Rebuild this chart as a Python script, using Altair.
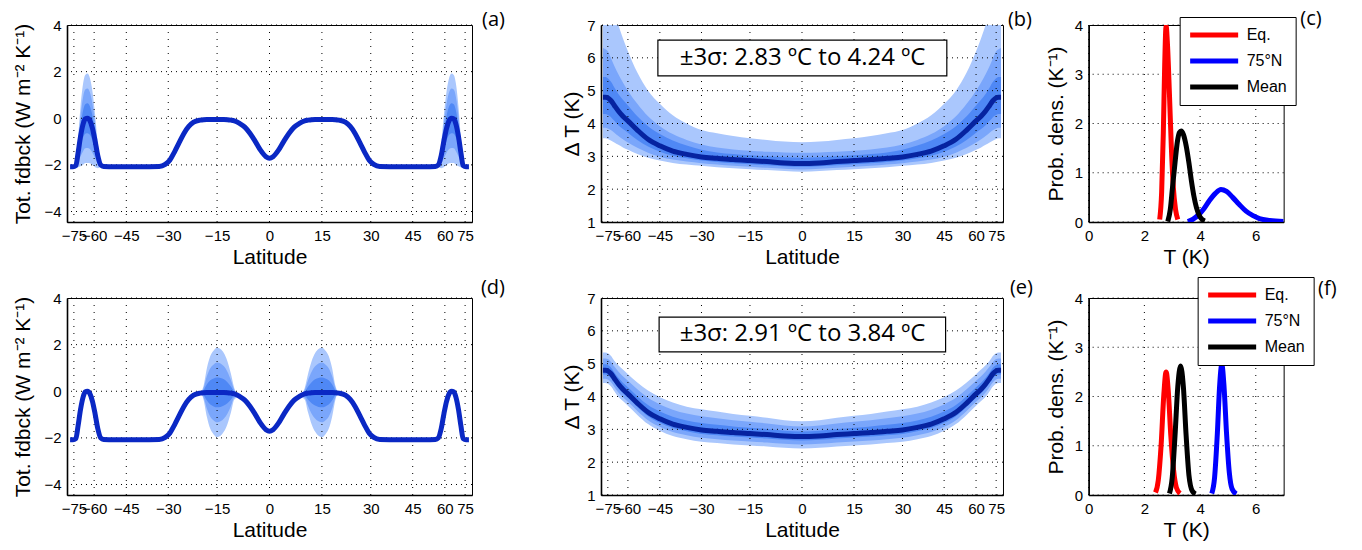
import altair as alt
import numpy as np
import pandas as pd

# ---------------- data ----------------
# (a)/(d) total feedback vs latitude: southern half incl. equator (figure is symmetric)
fb_lat_half = [-80, -76, -73, -71, -69, -67, -65.5, -64, -62.5, -61, -59.5, -58, -56.5, -55,
               -50, -40, -33, -31, -29.5, -28, -26.5, -25, -23.5, -22, -20, -19, -18, -17,
               -16, -15, -14, -13, -12, -11, -10, -8.5, -7, -5.5, -4, -2.5, -1, 0]
fb_val_half = [-2.08, -2.08, -2.03, -1.5, -0.8, -0.25, -0.03, 0.0, -0.1, -0.42, -0.95, -1.6, -2.0, -2.07,
               -2.08, -2.08, -2.07, -1.98, -1.8, -1.45, -1.05, -0.65, -0.35, -0.17, -0.08, -0.06, -0.05, -0.05,
               -0.05, -0.05, -0.05, -0.05, -0.06, -0.08, -0.11, -0.22, -0.38, -0.65, -1.0, -1.38, -1.65, -1.72]
# one-sigma spread of the feedback: (a) polar uncertainty, (d) subtropical uncertainty
fb_sd_a_half = [0, 0, 0.02, 0.2, 0.42, 0.58, 0.63, 0.64, 0.61, 0.53, 0.38, 0.18, 0.03, 0,
                0, 0, 0, 0, 0, 0, 0, 0, 0, 0, 0, 0, 0, 0,
                0, 0, 0, 0, 0, 0, 0, 0, 0, 0, 0, 0, 0, 0]
fb_sd_d_half = [0, 0, 0, 0, 0, 0, 0, 0, 0, 0, 0, 0, 0, 0,
                0, 0, 0, 0, 0, 0, 0, 0, 0, 0, 0, 0.1, 0.35, 0.52,
                0.6, 0.64, 0.62, 0.56, 0.45, 0.28, 0.08, 0, 0, 0, 0, 0, 0, 0]

# (b)/(e) warming vs latitude: southern half incl. equator
dt_lat_half = [-82, -78, -75, -72, -69, -66, -63, -60, -55, -50, -45, -40, -35, -30, -25, -20, -15, -10, -5, 0]
dt_mean_half = [4.80, 4.80, 4.78, 4.70, 4.55, 4.38, 4.22, 4.08, 3.80, 3.52, 3.32, 3.16, 3.06, 2.98, 2.94, 2.90, 2.87, 2.84, 2.80, 2.78]
# (b) band edges (1, 2, 3 sigma, skewed)
b_hi3_half = [8.6, 8.5, 8.3, 7.9, 7.45, 7.0, 6.6, 6.2, 5.55, 5.0, 4.6, 4.25, 4.0, 3.8, 3.7, 3.62, 3.55, 3.5, 3.45, 3.43]
b_hi2_half = [6.3, 6.26, 6.2, 6.0, 5.75, 5.5, 5.25, 5.0, 4.6, 4.22, 3.92, 3.68, 3.5, 3.36, 3.27, 3.21, 3.17, 3.14, 3.12, 3.11]
b_hi1_half = [5.42, 5.42, 5.38, 5.28, 5.1, 4.9, 4.72, 4.55, 4.22, 3.92, 3.68, 3.48, 3.33, 3.2, 3.12, 3.07, 3.03, 3.0, 2.97, 2.96]
b_lo1_half = [4.29, 4.29, 4.26, 4.2, 4.08, 3.95, 3.83, 3.72, 3.5, 3.3, 3.14, 3.02, 2.94, 2.87, 2.83, 2.79, 2.76, 2.73, 2.7, 2.68]
b_lo2_half = [3.87, 3.87, 3.85, 3.8, 3.72, 3.62, 3.52, 3.42, 3.26, 3.11, 2.99, 2.9, 2.84, 2.79, 2.75, 2.71, 2.68, 2.65, 2.62, 2.6]
b_lo3_half = [3.55, 3.55, 3.53, 3.48, 3.42, 3.35, 3.27, 3.2, 3.07, 2.96, 2.87, 2.8, 2.75, 2.71, 2.67, 2.64, 2.61, 2.58, 2.55, 2.53]
# (e) one-sigma spread above / below the mean
e_sd_hi_half = [0.18, 0.18, 0.18, 0.18, 0.18, 0.19, 0.2, 0.2, 0.21, 0.22, 0.22, 0.22, 0.21, 0.21, 0.2, 0.19, 0.18, 0.17, 0.16, 0.155]
e_sd_lo_half = [0.13, 0.13, 0.13, 0.13, 0.13, 0.13, 0.12, 0.12, 0.12, 0.12, 0.12, 0.12, 0.12, 0.12, 0.12, 0.12, 0.12, 0.12, 0.12, 0.12]

# (c) probability densities
c_eq_T = [2.55, 2.62, 2.68, 2.73, 2.78, 2.83, 2.90, 2.97, 3.04, 3.12, 3.20]
c_eq_p = [0.05, 0.6, 1.8, 3.2, 3.98, 3.6, 2.6, 1.5, 0.7, 0.25, 0.05]
c_n75_T = [3.56, 3.75, 3.97, 4.15, 4.33, 4.55, 4.75, 4.95, 5.17, 5.4, 5.65, 5.9, 6.13, 6.5, 7.0]
c_n75_p = [0.01, 0.06, 0.16, 0.28, 0.43, 0.58, 0.66, 0.62, 0.5, 0.36, 0.22, 0.13, 0.07, 0.03, 0.01]
c_mean_T = [2.84, 2.93, 3.01, 3.1, 3.19, 3.26, 3.32, 3.4, 3.5, 3.6, 3.69, 3.78, 3.87, 4.0, 4.17]
c_mean_p = [0.01, 0.25, 0.7, 1.2, 1.65, 1.82, 1.85, 1.78, 1.55, 1.2, 0.83, 0.52, 0.29, 0.1, 0.02]
# (f) probability densities
f_eq_T = [2.4, 2.5, 2.6, 2.7, 2.78, 2.86, 2.95, 3.05, 3.15, 3.28]
f_eq_p = [0.05, 0.3, 1.0, 2.05, 2.5, 2.1, 1.2, 0.5, 0.15, 0.03]
f_n75_T = [4.42, 4.52, 4.62, 4.7, 4.78, 4.86, 4.95, 5.05, 5.15, 5.3]
f_n75_p = [0.03, 0.35, 1.25, 2.2, 2.65, 2.2, 1.25, 0.45, 0.12, 0.02]
f_mean_T = [2.9, 3.0, 3.1, 3.2, 3.3, 3.4, 3.5, 3.6, 3.72, 3.84]
f_mean_p = [0.03, 0.35, 1.2, 2.2, 2.62, 2.2, 1.2, 0.4, 0.08, 0.02]

series_names = ["Eq.", "75°N", "Mean"]
series_colors = ["#ff0000", "#0000ff", "#000000"]

lat_ticks = [-75, -60, -45, -30, -15, 0, 15, 30, 45, 60, 75]
fb_ticks = [-4, -2, 0, 2, 4]
dt_ticks = [1, 2, 3, 4, 5, 6, 7]
pdf_x_ticks = [0, 2, 4, 6]
pdf_y_ticks = [0, 1, 2, 3, 4]

box_b = {"text": "±3σ: 2.83 ºC to 4.24 ºC", "lat0": -45.8, "lat1": 46.1, "y0": 5.45, "y1": 6.54, "ty": 6.0}
box_e = {"text": "±3σ: 2.91 ºC to 3.84 ºC", "lat0": -45.3, "lat1": 45.6, "y0": 5.36, "y1": 6.42, "ty": 5.89}

# ---------------- styling ----------------
LIGHT, MID, DARK = "#aac7fd", "#7aa6fb", "#4f88f5"
FB_LINE, DT_LINE = "#0a28c4", "#0623a0"
AXFONT = "Liberation Sans"
BOXFONT = "Open Sans"


def mirror_lat(half):
    return list(half) + [-v for v in reversed(half[:-1])]


def mirror_val(half):
    return list(half) + list(reversed(half[:-1]))


def sin_lat(lat):
    return np.sin(np.radians(np.asarray(lat, dtype=float)))


fbdf = pd.DataFrame({
    "lat": mirror_lat(fb_lat_half),
    "v": mirror_val(fb_val_half),
    "sda": mirror_val(fb_sd_a_half),
    "sdd": mirror_val(fb_sd_d_half),
})
fbdf["s"] = sin_lat(fbdf["lat"])
for k in (1, 2, 3):
    fbdf[f"a_lo{k}"] = fbdf["v"] - k * fbdf["sda"]
    fbdf[f"a_hi{k}"] = fbdf["v"] + k * fbdf["sda"]
    fbdf[f"d_lo{k}"] = fbdf["v"] - k * fbdf["sdd"]
    fbdf[f"d_hi{k}"] = fbdf["v"] + k * fbdf["sdd"]

bdf = pd.DataFrame({
    "lat": mirror_lat(dt_lat_half),
    "m": mirror_val(dt_mean_half),
    "hi3": mirror_val(b_hi3_half), "hi2": mirror_val(b_hi2_half), "hi1": mirror_val(b_hi1_half),
    "lo1": mirror_val(b_lo1_half), "lo2": mirror_val(b_lo2_half), "lo3": mirror_val(b_lo3_half),
})
bdf["s"] = sin_lat(bdf["lat"])

edf = pd.DataFrame({
    "lat": mirror_lat(dt_lat_half),
    "m": mirror_val(dt_mean_half),
    "sh": mirror_val(e_sd_hi_half),
    "sl": mirror_val(e_sd_lo_half),
})
edf["s"] = sin_lat(edf["lat"])
for k in (1, 2, 3):
    edf[f"hi{k}"] = edf["m"] + k * edf["sh"]
    edf[f"lo{k}"] = edf["m"] - k * edf["sl"]

gx_lat = pd.DataFrame({"s": sin_lat(lat_ticks)})

xs = alt.Scale(domain=[-1, 1], nice=False, zero=False)
xa = alt.Axis(title="Latitude", values=[float(v) for v in sin_lat(lat_ticks)],
              labelExpr="format(asin(datum.value)*180/PI, '.0f')",
              labelOverlap=False, labelFlush=False, titlePadding=3)
X_LAT = alt.X("s:Q", scale=xs, axis=xa)

W1, W2, W3, H = 405, 402, 195, 197


def grid_layers(xdf, xenc, ydf, yenc):
    v = alt.Chart(xdf).mark_rule(color="black", strokeWidth=1, strokeDash=[1, 6]).encode(x=xenc)
    h = alt.Chart(ydf).mark_rule(color="black", strokeWidth=1, strokeDash=[1, 4]).encode(y=yenc)
    return [v, h]


def panel_title(label, dx, dy):
    return alt.TitleParams(label, anchor="end", frame="group", dx=dx, dy=dy, fontSize=20,
                           font=BOXFONT, fontWeight="normal", color="black", baseline="alphabetic", offset=3)


def fb_panel(p, label, dx, dy):
    ys = alt.Scale(domain=[-4.45, 4], nice=False, zero=False)
    ya = alt.Axis(title="Tot. fdbck (W m⁻² K⁻¹)", values=fb_ticks, titlePadding=10)
    base = alt.Chart(fbdf)
    layers = []
    for k, col in ((3, LIGHT), (2, MID), (1, DARK)):
        layers.append(base.mark_area(color=col, interpolate="monotone", clip=True).encode(
            x=X_LAT, y=alt.Y(f"{p}_lo{k}:Q", scale=ys, axis=ya), y2=f"{p}_hi{k}:Q"))
    gy = pd.DataFrame({"v": fb_ticks})
    layers += grid_layers(gx_lat, X_LAT, gy, alt.Y("v:Q", scale=ys, axis=ya))
    layers.append(base.mark_line(color=FB_LINE, strokeWidth=5, interpolate="monotone", clip=True).encode(
        x=X_LAT, y=alt.Y("v:Q", scale=ys, axis=ya)))
    return alt.layer(*layers).properties(width=W1, height=H, title=panel_title(label, dx, dy))


def dt_panel(df, box, label, dx, dy):
    ys = alt.Scale(domain=[1, 7], nice=False, zero=False)
    ya = alt.Axis(title="Δ T (K)", values=dt_ticks, titlePadding=4)
    base = alt.Chart(df)
    layers = []
    for k, col in ((3, LIGHT), (2, MID), (1, DARK)):
        layers.append(base.mark_area(color=col, interpolate="monotone", clip=True).encode(
            x=X_LAT, y=alt.Y(f"lo{k}:Q", scale=ys, axis=ya), y2=f"hi{k}:Q"))
    gy = pd.DataFrame({"v": dt_ticks})
    layers += grid_layers(gx_lat, X_LAT, gy, alt.Y("v:Q", scale=ys, axis=ya))
    layers.append(base.mark_line(color=DT_LINE, strokeWidth=5, interpolate="monotone", clip=True).encode(
        x=X_LAT, y=alt.Y("m:Q", scale=ys, axis=ya)))
    bx = pd.DataFrame({"s0": sin_lat([box["lat0"]]), "s1": sin_lat([box["lat1"]]),
                       "y0": [box["y0"]], "y1": [box["y1"]], "ty": [box["ty"]],
                       "sc": sin_lat([(box["lat0"] + box["lat1"]) / 2]), "t": [box["text"]]})
    layers.append(alt.Chart(bx).mark_rect(fill="white", stroke="black", strokeWidth=1.2).encode(
        x=alt.X("s0:Q", scale=xs, axis=xa), x2="s1:Q", y=alt.Y("y0:Q", scale=ys, axis=ya), y2="y1:Q"))
    layers.append(alt.Chart(bx).mark_text(font=BOXFONT, fontSize=24, color="black", baseline="middle",
                                          align="center").encode(
        x=alt.X("sc:Q", scale=xs, axis=xa), y=alt.Y("ty:Q", scale=ys, axis=ya), text="t:N"))
    return alt.layer(*layers).properties(width=W2, height=H, title=panel_title(label, dx, dy))


def pdf_panel(Ts, Ps, label, dx, dy, lx, ly):
    rows = []
    for name, T, P in zip(series_names, Ts, Ps):
        for t, p in zip(T, P):
            rows.append({"T": t, "p": p, "series": name})
    df = pd.DataFrame(rows)
    xsc = alt.Scale(domain=[0, 7], nice=False, zero=False)
    ysc = alt.Scale(domain=[0, 4], nice=False, zero=False)
    xax = alt.Axis(title="T (K)", values=pdf_x_ticks, labelFlush=False, titlePadding=3)
    yax = alt.Axis(title="Prob. dens. (K⁻¹)", values=pdf_y_ticks, titlePadding=8)
    gx = pd.DataFrame({"T": pdf_x_ticks})
    gy = pd.DataFrame({"p": pdf_y_ticks})
    layers = grid_layers(gx, alt.X("T:Q", scale=xsc, axis=xax), gy, alt.Y("p:Q", scale=ysc, axis=yax))
    leg = alt.Legend(title=None, orient="none", legendX=lx, legendY=ly, symbolType="stroke",
                     symbolSize=2304, symbolStrokeWidth=5, clipHeight=20, rowPadding=6,
                     labelFontSize=16, labelFont=AXFONT, labelColor="black", strokeColor="black",
                     fillColor="white", padding=8, labelOffset=6)
    layers.append(alt.Chart(df).mark_line(strokeWidth=5, interpolate="monotone", clip=True).encode(
        x=alt.X("T:Q", scale=xsc, axis=xax), y=alt.Y("p:Q", scale=ysc, axis=yax),
        color=alt.Color("series:N", scale=alt.Scale(domain=series_names, range=series_colors), legend=leg),
        order=alt.Order("T:Q")))
    return alt.layer(*layers).properties(width=W3, height=H, title=panel_title(label, dx, dy))


def spacer():
    return alt.Chart(pd.DataFrame({"z": [0]})).mark_point(opacity=0).properties(
        width=1, height=H, view=alt.ViewBackground(stroke="transparent"))


pa = fb_panel("a", "(a)", 33, 31)
pd_ = fb_panel("d", "(d)", 33, 26)
pb = dt_panel(bdf, box_b, "(b)", 29, 31)
pe = dt_panel(edf, box_e, "(e)", 30, 26)
pc = pdf_panel([c_eq_T, c_n75_T, c_mean_T], [c_eq_p, c_n75_p, c_mean_p], "(c)", 38, 31, 91, -8)
pf = pdf_panel([f_eq_T, f_n75_T, f_mean_T], [f_eq_p, f_n75_p, f_mean_p], "(f)", 53, 41, 109, -21)

# grid of 6 columns: panel, 2 thin spacers, panel, 1 thin spacer, panel -> gaps 129 / 86 px
chart = alt.concat(
    pa, spacer(), spacer(), pb, spacer(), pc,
    pd_, spacer(), spacer(), pe, spacer(), pf,
    columns=6, spacing=alt.RowColnumber(row=76, column=42.33), bounds="flush", align="each",
).resolve_scale(color="independent", x="independent", y="independent")

chart = chart.properties(padding={"left": 4, "top": 0, "right": 5, "bottom": 5}, background="white").configure_view(
    stroke="black", strokeWidth=1
).configure_axis(
    labelFont=AXFONT, labelFontSize=15, labelColor="black", titleFont=AXFONT, titleFontSize=21,
    titleFontWeight="normal", titleColor="black", domainColor="black", domainWidth=1.6,
    ticks=False, grid=False, labelPadding=6
)

chart.save("out.html", embed_options={"renderer": "svg", "actions": False})
